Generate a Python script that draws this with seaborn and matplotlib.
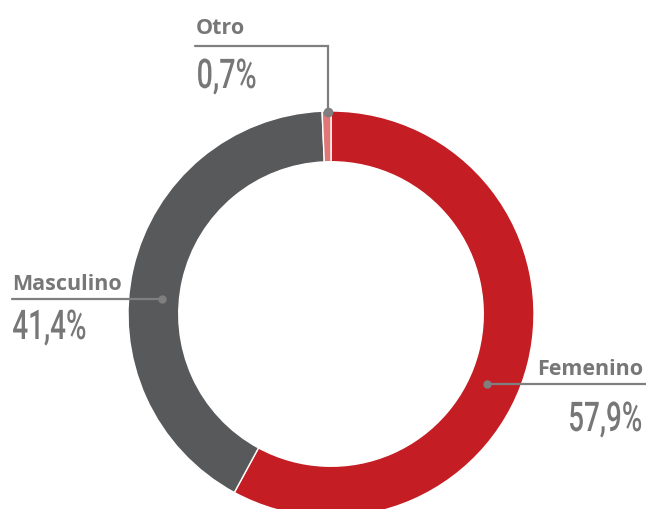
import numpy as np
import matplotlib
matplotlib.use("Agg")
import matplotlib.pyplot as plt
import seaborn as sns
from matplotlib.patheffects import AbstractPathEffect
from matplotlib.transforms import Affine2D

# ---- data ----
categories = ["Femenino", "Masculino", "Otro"]
values = [57.9, 41.4, 0.7]
value_labels = ["57,9%", "41,4%", "0,7%"]
colors = ["#C41E24", "#58595B", "#E07676"]

sns.set_theme(style="white")
plt.rcParams["font.family"] = ["Open Sans", "DejaVu Sans"]

W, H = 646, 510
CX, CY, R = 331, 315, 203  # pixel geometry of the ring


def px(x, y):
    return (x - CX) / R, (CY - y) / R


class Condense(AbstractPathEffect):
    """Horizontally condense a text's glyphs (emulates a condensed face)."""

    def __init__(self, sx, anchor="left"):
        super().__init__()
        self.sx = sx
        self.anchor = anchor

    def draw_path(self, renderer, gc, tpath, affine, rgbFace=None):
        ext = tpath.get_extents()
        x0 = ext.x0 if self.anchor == "left" else ext.x1
        t = Affine2D().translate(-x0, 0).scale(self.sx, 1).translate(x0, 0) + affine
        renderer.draw_path(gc, tpath, t, rgbFace)


fig = plt.figure(figsize=(W / 100, H / 100), dpi=100)
ax = fig.add_axes([0, 0, 1, 1])
ax.pie(values, colors=colors, startangle=90, counterclock=False, radius=1,
       wedgeprops=dict(width=0.25, edgecolor="white", linewidth=1.0))
ax.set_xlim(-CX / R, (W - CX) / R)
ax.set_ylim(-(H - CY) / R, CY / R)
ax.set_aspect("auto")
ax.axis("off")

line_c = "#7F7F7F"
text_c = "#777777"
lw = 1.6

# leader lines and dots
# Otro
ax.plot(*zip(px(328, 113), px(328, 47), px(195, 47)), color=line_c, lw=lw,
        solid_joinstyle="miter")
ax.plot(*px(328, 113), "o", color=line_c, ms=6)
# Masculino
ax.plot(*zip(px(162, 300), px(12, 300)), color=line_c, lw=lw)
ax.plot(*px(162, 300), "o", color=line_c, ms=5)
# Femenino
ax.plot(*zip(px(487, 385), px(646, 385)), color=line_c, lw=lw)
ax.plot(*px(487, 385), "o", color=line_c, ms=5)

name_kw = dict(fontsize=15.5, fontweight="bold", color=text_c, va="baseline")
num_kw = dict(fontsize=29.5, color=text_c, va="baseline", fontweight="medium",
              family=["Roboto", "DejaVu Sans"])

# Otro
ax.text(*px(196, 34), categories[2], ha="left", **name_kw)
ax.text(*px(196, 89), value_labels[2], ha="left",
        path_effects=[Condense(0.7, "left")], **num_kw)
# Masculino
ax.text(*px(12, 290), categories[1], ha="left", **name_kw)
ax.text(*px(12, 340), value_labels[1], ha="left",
        path_effects=[Condense(0.68, "left")], **num_kw)
# Femenino
ax.text(*px(643, 375), categories[0], ha="right", **name_kw)
ax.text(*px(643, 432), value_labels[0], ha="right",
        path_effects=[Condense(0.68, "right")], **num_kw)

fig.savefig("out.png", dpi=100, facecolor="white")
